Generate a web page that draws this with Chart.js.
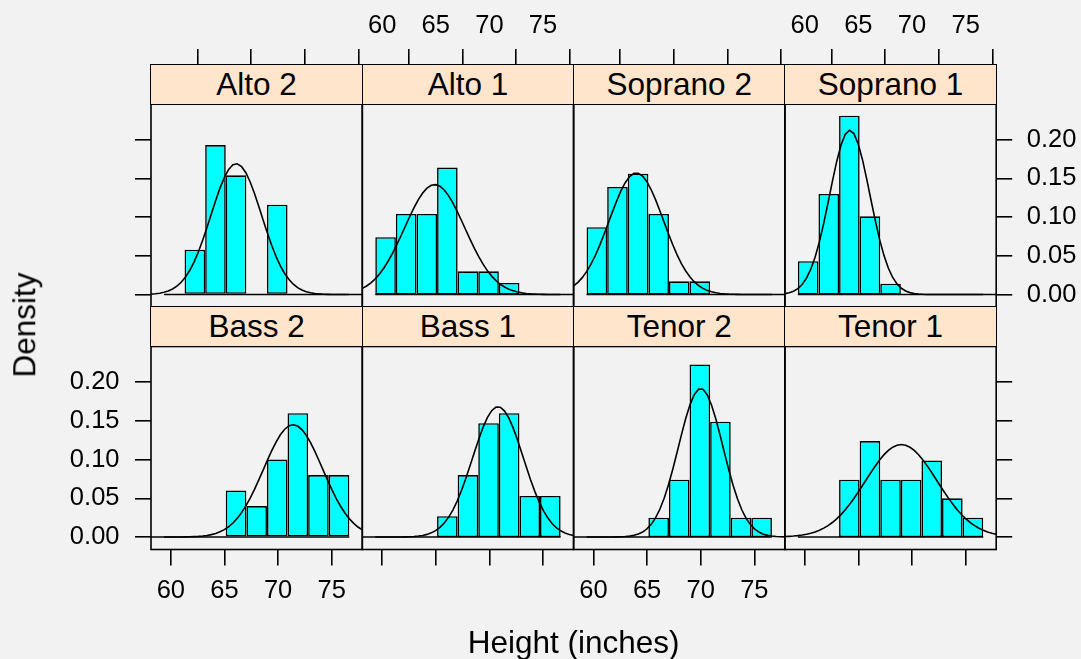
<!DOCTYPE html>
<html>
<head>
<meta charset="utf-8">
<title>Singer heights by voice part</title>
<script src="https://cdn.jsdelivr.net/npm/chart.js@4.4.1/dist/chart.umd.min.js"></script>
<style>
  html, body { margin: 0; padding: 0; }
  body {
    width: 1081px; height: 659px; overflow: hidden; position: relative;
    background: #f2f2f2; color: #000;
    font-family: "Liberation Sans", Arial, sans-serif;
  }
  canvas.panel { position: absolute; left: 0; top: 0; }
  .strip {
    position: absolute; box-sizing: border-box; z-index: 5;
    background: #ffe5cc; border: 1.6px solid #000;
    display: flex; align-items: center; justify-content: center;
    font-size: 31.5px; line-height: 1; white-space: nowrap;
  }
  .lab {
    position: absolute; z-index: 5; font-size: 31.5px; line-height: 1;
    white-space: nowrap; transform: translate(-50%, -50%);
  }
  .lab.rot { transform: translate(-50%, -50%) rotate(-90deg); }
</style>
</head>
<body>
<script>
// histogram breaks (inches), shared by all panels
const breaks = [59.36, 61.28, 63.20, 65.12, 67.04, 68.96, 70.88, 72.80, 74.72, 76.64];

// lattice order: bottom row first, left to right
const voiceParts = ['Bass 2', 'Bass 1', 'Tenor 2', 'Tenor 1', 'Alto 2', 'Alto 1', 'Soprano 2', 'Soprano 1'];

// density of each bin, per voice part
const bass2 = [0, 0, 0, 0.060, 0.040, 0.100, 0.160, 0.080, 0.080];
const bass1 = [0, 0, 0, 0.027, 0.080, 0.147, 0.160, 0.053, 0.053];
const tenor2 = [0, 0, 0, 0.025, 0.074, 0.223, 0.149, 0.025, 0.025];
const tenor1 = [0, 0, 0.074, 0.124, 0.074, 0.074, 0.099, 0.050, 0.025];
const alto2 = [0, 0.058, 0.193, 0.154, 0, 0.116, 0, 0, 0];
const alto1 = [0.074, 0.104, 0.104, 0.164, 0.030, 0.030, 0.015, 0, 0];
const soprano2 = [0.087, 0.139, 0.156, 0.104, 0.017, 0.017, 0, 0, 0];
const soprano1 = [0.043, 0.130, 0.231, 0.101, 0.014, 0, 0, 0, 0];
const densities = [bass2, bass1, tenor2, tenor1, alto2, alto1, soprano2, soprano1];

// fitted normal curve of each panel (mean, sd in inches)
const partMeans = [71.4, 70.8, 70.0, 69.0, 66.1, 64.9, 64.0, 64.2];
const partSds = [2.75, 2.37, 2.08, 3.34, 2.36, 2.81, 2.54, 1.88];

const xTicks = [60, 65, 70, 75];
const yTicks = [0, 0.05, 0.10, 0.15, 0.20];

// axis limits
const xMin = 58.15, xMax = 77.85;
const yMin = -0.0161, yMax = 0.2461;

//#region ***  Layout  ***********
const W = 1081, H = 659;
const colLeft = (c) => 151 + c * 211.3;
const panelW = 211.3;
const rows = [
	{ stripTop: 307, top: 346.5, bottom: 549.5 }, // bottom row
	{ stripTop: 65, top: 104, bottom: 307 }, // top row
];
const tickFont = { family: '"Liberation Sans", Arial, sans-serif', size: 25.5 };
const lw = 1.6;
//#endregion

const panelBorder = {
	id: 'panelBorder',
	afterDraw(chart) {
		const a = chart.chartArea;
		const ctx = chart.ctx;
		ctx.save();
		ctx.strokeStyle = '#000';
		ctx.lineWidth = lw;
		ctx.strokeRect(a.left, a.top, a.right - a.left, a.bottom - a.top);
		ctx.restore();
	},
};

// the reference overlays the normal density with each part's mean and sd
const normalCurve = function (mean, sd) {
	const pts = [];
	const n = 50;
	for (let i = 0; i < n; i++) {
		const x = xMin + (i * (xMax - xMin)) / (n - 1);
		const z = (x - mean) / sd;
		pts.push({ x: x, y: Math.exp(-0.5 * z * z) / (sd * Math.sqrt(2 * Math.PI)) });
	}
	return pts;
};

const tickGrid = function (len) {
	return { display: true, drawOnChartArea: false, drawTicks: true, tickLength: len, color: '#000', lineWidth: lw };
};

const createPanel = function (i) {
	const row = i < 4 ? 0 : 1;
	const col = i % 4;
	const r = rows[row];
	const L = colLeft(col);
	const R = L + panelW;
	const binW = breaks[1] - breaks[0];

	const bars = densities[i].map((d, k) => ({ x: breaks[k] + binW / 2, y: d }));

	const hasBottom = row === 0;
	const hasTop = row === 1;
	const hasLeft = col === 0;
	const hasRight = col === 3;

	const canvas = document.createElement('canvas');
	canvas.className = 'panel';
	canvas.width = W;
	canvas.height = H;
	document.body.appendChild(canvas);

	const config = {
		type: 'bar',
		data: {
			datasets: [
				{
					type: 'line',
					data: normalCurve(partMeans[i], partSds[i]),
					borderColor: '#000',
					borderWidth: lw,
					pointRadius: 0,
					tension: 0,
					fill: false,
					order: 0,
				},
				{
					type: 'bar',
					data: bars,
					backgroundColor: '#00ffff',
					borderColor: '#000',
					borderWidth: lw,
					borderSkipped: false,
					inflateAmount: 0,
					barPercentage: 1,
					categoryPercentage: 1,
					order: 1,
				},
				{
					type: 'line',
					data: [
						{ x: breaks[0], y: 0 },
						{ x: breaks[breaks.length - 1], y: 0 },
					],
					borderColor: '#000',
					borderWidth: lw,
					pointRadius: 0,
					order: 2,
				},
			],
		},
		options: {
			responsive: false,
			animation: false,
			devicePixelRatio: 1,
			events: [],
			layout: {
				padding: {
					left: hasLeft ? 0 : L,
					right: hasRight ? 0 : W - R,
					top: hasTop ? 0 : r.top,
					bottom: hasBottom ? 0 : H - r.bottom,
				},
			},
			plugins: { legend: { display: false }, tooltip: { enabled: false } },
			scales: {
				x: {
					type: 'linear',
					position: 'bottom',
					min: xMin,
					max: xMax,
					offset: false,
					display: hasBottom,
					grid: { ...tickGrid(16), offset: false },
					border: { display: false },
					ticks: {
						display: col === 0 || col === 2,
						font: tickFont,
						color: '#000',
						padding: 10,
						autoSkip: false,
						maxRotation: 0,
						callback: (v) => String(v),
					},
					afterBuildTicks: (s) => {
						s.ticks = xTicks.map((v) => ({ value: v }));
					},
					afterFit: (s) => {
						s.height = hasBottom ? H - r.bottom : 0;
					},
				},
				xTop: {
					type: 'linear',
					position: 'top',
					min: xMin,
					max: xMax,
					offset: false,
					display: hasTop,
					grid: tickGrid(55),
					border: { display: false },
					ticks: {
						display: col === 1 || col === 3,
						font: tickFont,
						color: '#000',
						padding: 8,
						autoSkip: false,
						maxRotation: 0,
						callback: (v) => String(v),
					},
					afterBuildTicks: (s) => {
						s.ticks = xTicks.map((v) => ({ value: v }));
					},
					afterFit: (s) => {
						s.height = hasTop ? r.top : 0;
					},
				},
				y: {
					type: 'linear',
					position: 'left',
					min: yMin,
					max: yMax,
					display: hasLeft,
					grid: tickGrid(16),
					border: { display: false },
					ticks: {
						display: row === 0,
						font: tickFont,
						color: '#000',
						padding: 15.5,
						autoSkip: false,
						callback: (v) => v.toFixed(2),
					},
					afterBuildTicks: (s) => {
						s.ticks = yTicks.map((v) => ({ value: v }));
					},
					afterFit: (s) => {
						s.width = hasLeft ? L : 0;
					},
				},
				yRight: {
					type: 'linear',
					position: 'right',
					min: yMin,
					max: yMax,
					display: hasRight,
					grid: tickGrid(16),
					border: { display: false },
					ticks: {
						display: row === 1,
						font: tickFont,
						color: '#000',
						padding: 14.5,
						autoSkip: false,
						callback: (v) => v.toFixed(2),
					},
					afterBuildTicks: (s) => {
						s.ticks = yTicks.map((v) => ({ value: v }));
					},
					afterFit: (s) => {
						s.width = hasRight ? W - R : 0;
					},
				},
			},
		},
		plugins: [panelBorder],
	};
	new Chart(canvas, config);

	// strip with the voice part name
	const strip = document.createElement('div');
	strip.className = 'strip';
	strip.style.left = L - lw / 2 + 'px';
	strip.style.top = r.stripTop - lw / 2 + 'px';
	strip.style.width = panelW + lw + 'px';
	strip.style.height = r.top - r.stripTop + lw + 'px';
	strip.textContent = voiceParts[i];
	document.body.appendChild(strip);
};

const addLabel = function (text, x, y, rotated) {
	const d = document.createElement('div');
	d.className = rotated ? 'lab rot' : 'lab';
	d.style.left = x + 'px';
	d.style.top = y + 'px';
	d.textContent = text;
	document.body.appendChild(d);
};

//#region ***  Init  ***********
const init = function () {
	for (let i = 0; i < voiceParts.length; i++) createPanel(i);
	addLabel('Height (inches)', 573.7, 643.3, false);
	addLabel('Density', 24.6, 325, true);
};
document.addEventListener('DOMContentLoaded', init);
//#endregion
</script>
</body>
</html>
